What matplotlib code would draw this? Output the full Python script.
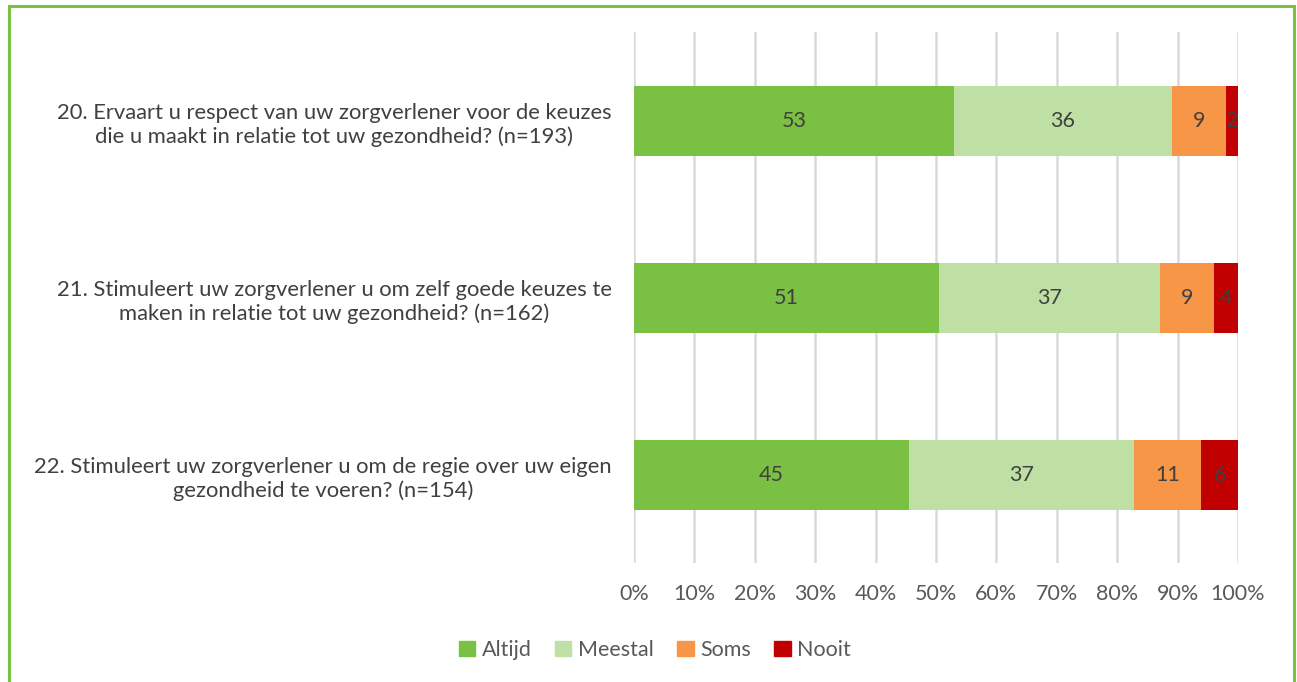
import matplotlib.pyplot as plt
import matplotlib.patches as mpatches
import numpy as np

plt.rcParams['font.family'] = ['Lato', 'DejaVu Sans']

questions = [
    "20. Ervaart u respect van uw zorgverlener voor de keuzes\ndie u maakt in relatie tot uw gezondheid? (n=193)",
    "21. Stimuleert uw zorgverlener u om zelf goede keuzes te\nmaken in relatie tot uw gezondheid? (n=162)",
    "22. Stimuleert uw zorgverlener u om de regie over uw eigen\ngezondheid te voeren? (n=154)",
]
answers = ['Altijd', 'Meestal', 'Soms', 'Nooit']
altijd = [53, 51, 45]
meestal = [36, 37, 37]
soms = [9, 9, 11]
nooit = [2, 4, 6]
colors = ['#7AC043', '#BFE0A4', '#F79646', '#C00000']

series = np.array([altijd, meestal, soms, nooit], dtype=float)
shares = series / series.sum(axis=0) * 100  # 100% stacked

fig = plt.figure(figsize=(12.97, 6.82), dpi=100)
ax = fig.add_axes([0.4888, 0.1738, 0.4657, 0.7786])

ypos = np.arange(len(questions))
left = np.zeros(len(questions))
for i in range(len(answers)):
    bars = ax.barh(ypos, shares[i], left=left, height=0.4, color=colors[i], zorder=3)
    for j, b in enumerate(bars):
        ax.text(left[j] + shares[i][j] / 2, ypos[j], str(int(series[i][j])),
                ha='center', va='center', fontsize=15.5, color='#404040', zorder=4)
    left += shares[i]

ax.set_xlim(0, 100)
ax.set_ylim(2.5, -0.5)
ax.set_xticks(range(0, 101, 10))
ax.set_xticklabels([f'{x}%' for x in range(0, 101, 10)])
ax.set_yticks(ypos)
ax.set_yticklabels(questions, multialignment='center', linespacing=1.25)
ax.tick_params(axis='x', length=0, pad=15, labelsize=15.5, labelcolor='#595959')
ax.tick_params(axis='y', length=0, pad=16, labelsize=15.8, labelcolor='#404040')
ax.grid(axis='x', color='#D9D9D9', linewidth=1.8, zorder=0)
for s in ax.spines.values():
    s.set_visible(False)

handles = [mpatches.Patch(color=c, label=a) for a, c in zip(answers, colors)]
fig.legend(handles=handles, loc='center', bbox_to_anchor=(0.505, 0.047), ncol=4,
           frameon=False, fontsize=15.5, labelcolor='#595959',
           handlelength=0.75, handleheight=0.75, handletextpad=0.3, columnspacing=1.1)

# green border around the chart area
fig.patches.append(mpatches.Rectangle((8.5 / 1297, -0.05), 1285 / 1297, 1.05 - 6 / 682,
                                      transform=fig.transFigure, fill=False,
                                      edgecolor='#7AC043', linewidth=2.2))

fig.savefig('out.png', dpi=100)
